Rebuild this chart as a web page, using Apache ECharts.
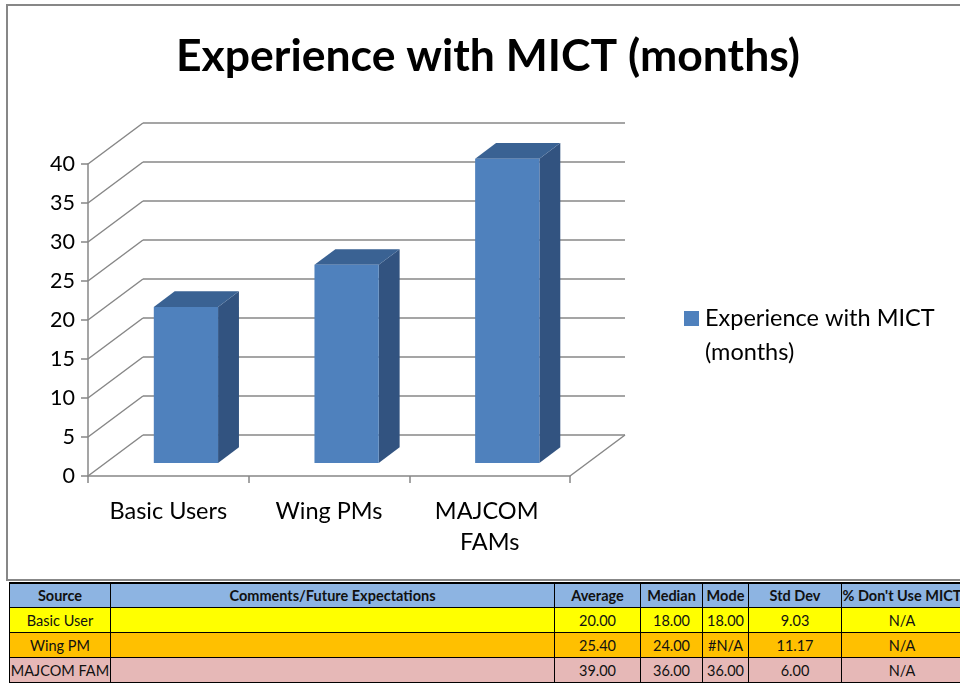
<!DOCTYPE html>
<html>
<head>
<meta charset="utf-8">
<script src="https://cdn.jsdelivr.net/npm/echarts@6/dist/echarts.min.js"></script>
<style>
  html, body { margin: 0; padding: 0; background: #fff; overflow: hidden; }
  #main { position: absolute; left: 0; top: 0; width: 960px; height: 582px; }
  #tbl { position: absolute; left: 9px; top: 582px; width: 953px; border-collapse: collapse;
         font-family: Lato, 'Open Sans', sans-serif; font-size: 14.5px; color: #111; table-layout: fixed; }
  #tbl td { border: 1px solid #000; text-align: center; padding: 0; height: 24px; white-space: nowrap; overflow: visible; }
  #tbl tr.head td { font-weight: bold; height: 23px; background: #8DB4E2; }
  #tbl { border-top: 2px solid #000; }
</style>
</head>
<body>
<div id="main"></div>
<table id="tbl"></table>
<script>
var categories = ['Basic Users', 'Wing PMs', 'MAJCOM FAMs'];
var experience = [20, 25.4, 39];
var yTicks = [0, 5, 10, 15, 20, 25, 30, 35, 40];
var seriesName = 'Experience with MICT (months)';

// table below the chart
var tableHeader = ['Source', 'Comments/Future Expectations', 'Average', 'Median', 'Mode', 'Std Dev', "% Don't Use MICT"];
var sources = ['Basic User', 'Wing PM', 'MAJCOM FAM'];
var comments = ['', '', ''];
var average = ['20.00', '25.40', '39.00'];
var median = ['18.00', '24.00', '36.00'];
var mode = ['18.00', '#N/A', '36.00'];
var stdDev = ['9.03', '11.17', '6.00'];
var dontUse = ['N/A', 'N/A', 'N/A'];

var colWidths = [101, 444, 86, 62, 46, 93, 121];
var rowColors = ['#FFFF00', '#FFC000', '#E6B8B7'];

var tbl = document.getElementById('tbl');
var html = '<colgroup>' + colWidths.map(function (w) { return '<col style="width:' + w + 'px">'; }).join('') + '</colgroup>';
html += '<tr class="head">' + tableHeader.map(function (h) { return '<td>' + h + '</td>'; }).join('') + '</tr>';
for (var i = 0; i < sources.length; i++) {
  var cells = [sources[i], comments[i], average[i], median[i], mode[i], stdDev[i], dontUse[i]];
  html += '<tr style="background:' + rowColors[i] + '">' + cells.map(function (c) { return '<td>' + c + '</td>'; }).join('') + '</tr>';
}
tbl.innerHTML = html;

// 3d look
var DX = 55, DY = -41;      // depth of the floor
var D0 = 0.32, DD = 0.38;   // where bars sit in the depth
var gridColor = '#878787';

var wallData = yTicks.map(function (v) { return [0, v]; });

var myChart = echarts.init(document.getElementById('main'));

option = {
  animation: false,
  textStyle: { fontFamily: 'Lato, "Open Sans", sans-serif' },
  title: {
    text: 'Experience with MICT (months)',
    left: 171,
    top: 29,
    textStyle: { fontSize: 44.5, fontWeight: 'bold', color: '#000', fontFamily: 'Lato' }
  },
  grid: { left: 88, right: 390, top: 164, bottom: 106 },
  xAxis: {
    type: 'category',
    data: categories,
    axisLine: { lineStyle: { color: gridColor, width: 1.5 } },
    axisTick: { show: true, length: 7, lineStyle: { color: gridColor, width: 1.5 } },
    axisLabel: { interval: 0, fontSize: 23.5, color: '#000', margin: 20, width: 140, overflow: 'break', lineHeight: 31 }
  },
  yAxis: {
    type: 'value',
    min: 0, max: 40, interval: 5,
    axisLine: { show: true, lineStyle: { color: gridColor, width: 1.5 } },
    axisTick: { show: true, length: 7, lineStyle: { color: gridColor, width: 1.5 } },
    axisLabel: { fontSize: 21.5, color: '#000', margin: 13 },
    splitLine: { show: false }
  },
  graphic: [
    { type: 'rect', shape: { x: 7, y: 5, width: 970, height: 575 }, style: { fill: 'none', stroke: '#878787', lineWidth: 2 }, silent: true },
    { type: 'rect', shape: { x: 684, y: 311, width: 15, height: 15 }, style: { fill: '#4F81BD' } },
    { type: 'text', x: 705, y: 301, style: { text: 'Experience with MICT\n(months)', fontSize: 23.5, lineHeight: 34, fill: '#000', fontFamily: 'Lato' } }
  ],
  series: [
    {
      type: 'custom',
      name: 'walls',
      silent: true,
      z: 1,
      data: wallData,
      encode: { x: 0, y: 1 },
      renderItem: function (params, api) {
        var cs = params.coordSys;
        var y = api.coord([0, api.value(1)])[1];
        var xl = cs.x, xr = cs.x + cs.width;
        var ls = { stroke: gridColor, lineWidth: 1.5 };
        var kids = [
          { type: 'line', shape: { x1: xl, y1: y, x2: xl + DX, y2: y + DY }, style: ls },
          { type: 'line', shape: { x1: xl + DX, y1: y + DY, x2: xr + DX, y2: y + DY }, style: ls }
        ];
        if (api.value(1) === 0) {
          kids.push({ type: 'line', shape: { x1: xr, y1: y, x2: xr + DX, y2: y + DY }, style: ls });
        }
        return { type: 'group', children: kids };
      }
    },
    {
      type: 'custom',
      name: seriesName,
      z: 3,
      data: experience,
      encode: { x: 0, y: 1 },
      renderItem: function (params, api) {
        var idx = api.value(0);
        var top = api.coord([idx, api.value(1)]);
        var bot = api.coord([idx, 0]);
        var w = api.size([1, 0])[0] * 0.4;
        var ox = D0 * DX, oy = D0 * DY;
        var dx = DD * DX, dy = DD * DY;
        var x0 = top[0] - w / 2 + ox, x1 = top[0] + w / 2 + ox;
        var yt = top[1] + oy, yb = bot[1] + oy;
        return {
          type: 'group',
          children: [
            { type: 'polygon', shape: { points: [[x1, yb], [x1, yt], [x1 + dx, yt + dy], [x1 + dx, yb + dy]] }, style: { fill: '#325380' } },
            { type: 'polygon', shape: { points: [[x0, yt], [x1, yt], [x1 + dx, yt + dy], [x0 + dx, yt + dy]] }, style: { fill: '#3A6293' } },
            { type: 'rect', shape: { x: x0, y: yt, width: x1 - x0, height: yb - yt }, style: { fill: '#4F81BD' } }
          ]
        };
      }
    }
  ]
};
myChart.setOption(option);
</script>
</body>
</html>
